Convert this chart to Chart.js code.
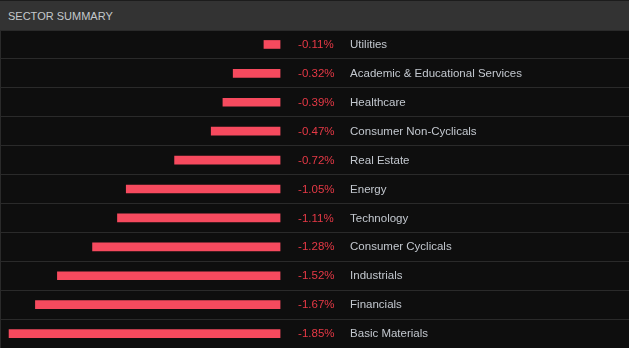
<!DOCTYPE html>
<html>
<head>
<meta charset="utf-8">
<script src="https://cdn.jsdelivr.net/npm/chart.js@4/dist/chart.umd.min.js"></script>
<style>
    html, body {
        margin: 0;
        padding: 0;
        width: 629px;
        height: 348px;
        background: #0e0e0e;
        overflow: hidden;
        font-family: "Liberation Sans", Arial, sans-serif;
    }
    .panel-header {
        height: 29px;
        border-top: 1px solid #1c1c1c;
        background: #333333;
        color: #c4c8cc;
        font-size: 11px;
        line-height: 31px;
        padding-left: 8px;
    }
    .chart-wrap {
        position: relative;
        width: 628px;
        height: 318px;
        border-left: 1px solid #2a2a2a;
    }
</style>
</head>
<body>
<div class="panel-header">SECTOR SUMMARY</div>
<div class="chart-wrap"><canvas id="sectorChart"></canvas></div>
<script>
// Sector moves, top row first
const sectors = [
    'Utilities',
    'Academic & Educational Services',
    'Healthcare',
    'Consumer Non-Cyclicals',
    'Real Estate',
    'Energy',
    'Technology',
    'Consumer Cyclicals',
    'Industrials',
    'Financials',
    'Basic Materials'
];
const changes = [-0.11, -0.32, -0.39, -0.47, -0.72, -1.05, -1.11, -1.28, -1.52, -1.67, -1.85];

const barColor = '#f64a5e';
const valueColor = '#e63946';
const labelColor = '#c3c8cf';

// Draws the percent and the sector name to the right of the zero line
const rowLabels = {
    id: 'rowLabels',
    afterDatasetsDraw(chart) {
        const ctx = chart.ctx;
        const x = chart.scales.x;
        const y = chart.scales.y;
        const zero = x.getPixelForValue(0);
        ctx.save();
        ctx.textBaseline = 'middle';
        chart.data.labels.forEach((name, i) => {
            const cy = y.getPixelForValue(i) + 0.5;
            const v = chart.data.datasets[0].data[i];
            ctx.font = '11.5px "Liberation Sans", Arial, sans-serif';
            ctx.fillStyle = valueColor;
            ctx.textAlign = 'left';
            ctx.fillText(v.toFixed(2) + '%', zero + 18, cy);
            ctx.font = '11.5px "Liberation Sans", Arial, sans-serif';
            ctx.fillStyle = labelColor;
            ctx.fillText(name, zero + 70, cy);
        });
        ctx.restore();
    }
};

new Chart(document.getElementById('sectorChart'), {
    type: 'bar',
    data: {
        labels: sectors,
        datasets: [{
            data: changes,
            backgroundColor: barColor,
            borderWidth: 0,
            barThickness: 8
        }]
    },
    options: {
        indexAxis: 'y',
        responsive: true,
        maintainAspectRatio: false,
        animation: false,
        layout: { padding: 0 },
        plugins: {
            legend: { display: false },
            tooltip: { enabled: false }
        },
        scales: {
            x: {
                display: false,
                min: -1.905,
                max: 2.382
            },
            y: {
                ticks: { display: false },
                border: { display: false },
                grid: {
                    color: '#2a2a2a',
                    drawTicks: false,
                    offset: true
                }
            }
        }
    },
    plugins: [rowLabels]
});
</script>
</body>
</html>
